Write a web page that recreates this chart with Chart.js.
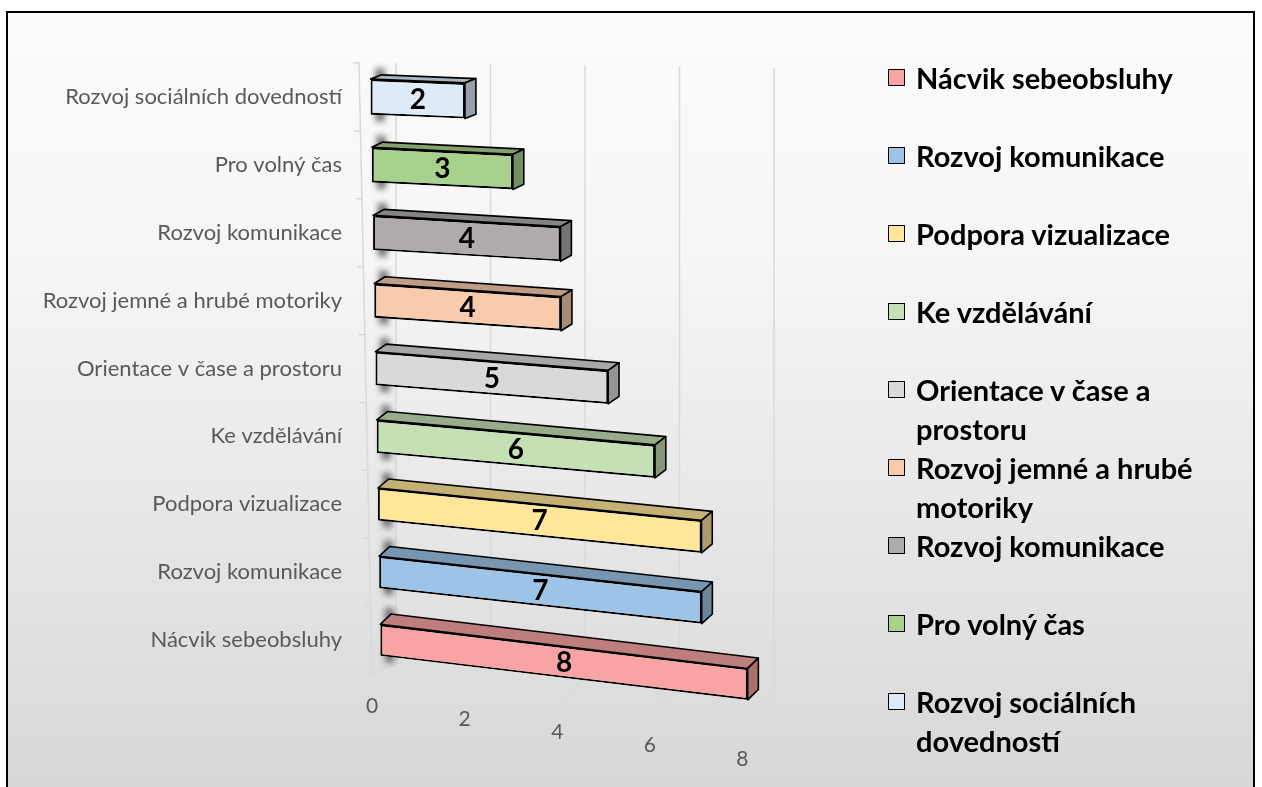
<!DOCTYPE html>
<html>
<head>
<meta charset="utf-8">
<script src="https://cdn.jsdelivr.net/npm/chart.js@4"></script>
<style>
    html, body { margin: 0; padding: 0; width: 1262px; height: 787px; overflow: hidden; background: #fff; }
    #frame {
        position: absolute; left: 6px; top: 11px; width: 1245px; height: 800px;
        border: 2px solid #000;
        background: linear-gradient(#fbfbfb 0%, #f6f6f6 30%, #e6e6e6 65%, #d6d6d6 100%);
    }
    #chart { position: absolute; left: 0; top: 0; }
    #legend { position: absolute; left: 888px; top: 58px; width: 360px; font-family: Lato, 'Open Sans', sans-serif; }
    .item { display: flex; align-items: flex-start; min-height: 78px; }
    .sw { width: 15px; height: 15px; border: 1.5px solid #000; margin: 11px 11px 0 0; flex: none; }
    .txt { font-weight: 700; font-size: 29px; line-height: 39px; color: #000; width: 310px; }
</style>
</head>
<body>
<div id="frame"></div>
<canvas id="chart" width="1262" height="787"></canvas>
<div id="legend"></div>
<script>
    // data, bottom bar first
    const categories = [
        'Nácvik sebeobsluhy',
        'Rozvoj komunikace',
        'Podpora vizualizace',
        'Ke vzdělávání',
        'Orientace v čase a prostoru',
        'Rozvoj jemné a hrubé motoriky',
        'Rozvoj komunikace',
        'Pro volný čas',
        'Rozvoj sociálních dovedností'
    ];
    const values = [8, 7, 7, 6, 5, 4, 4, 3, 2];
    const xTicks = [0, 2, 4, 6, 8];

    const frontColors = ['#F8A4A4', '#9DC3E6', '#FFE699', '#C5E0B4', '#D9D9D9', '#F8CBAD', '#AFABAB', '#A9D18E', '#DEEBF7'];

    function shade(hex, f) {
        const n = parseInt(hex.slice(1), 16);
        const r = Math.round(((n >> 16) & 255) * f);
        const g = Math.round(((n >> 8) & 255) * f);
        const b = Math.round((n & 255) * f);
        return `rgb(${r},${g},${b})`;
    }
    const topColors = frontColors.map(c => shade(c, 0.77));
    const sideColors = frontColors.map(c => shade(c, 0.68));

    const FONT = 'Lato, "Open Sans", sans-serif';
    const GRID = '#d9d9d9';

    // fake perspective: rows lower down tilt more, shift right a bit and shrink slightly
    function geom(chart, bar) {
        const area = chart.chartArea;
        const p = bar.getProps(['x', 'y', 'base', 'height'], true);
        const frac = (p.y - area.top) / (area.bottom - area.top);
        return {
            p,
            s: 0.035 + 0.09 * frac,
            sh: -2 + 11 * frac,
            k: 1 - 0.03 * frac,
            ky: 1.06 - 0.14 * frac,
            dx: 11,
            dy: 4 + 9 * frac
        };
    }

    function poly(ctx, pts, fill) {
        ctx.beginPath();
        pts.forEach((pt, i) => (i ? ctx.lineTo(pt[0], pt[1]) : ctx.moveTo(pt[0], pt[1])));
        ctx.closePath();
        ctx.fillStyle = fill;
        ctx.fill();
        ctx.stroke();
    }

    const walls = {
        id: 'walls',
        beforeDatasetsDraw(chart) {
            const ctx = chart.ctx, area = chart.chartArea, xs = chart.scales.x;
            const x0 = xs.getPixelForValue(0);
            ctx.save();
            ctx.strokeStyle = GRID;
            ctx.lineWidth = 1.5;
            // left axis line with small ticks
            ctx.beginPath();
            ctx.moveTo(x0 - 13, area.top - 1);
            ctx.lineTo(x0, area.bottom);
            const step = (area.bottom - area.top) / categories.length;
            for (let i = 0; i <= categories.length; i++) {
                const y = area.top + i * step;
                const x = x0 - 13 + 13 * i / categories.length;
                ctx.moveTo(x - 6, y);
                ctx.lineTo(x, y);
            }
            ctx.stroke();
            xTicks.forEach(v => {
                const xf = xs.getPixelForValue(v);
                const xw = xf + 24;
                const yw = area.bottom - 13 + (xw - x0) * 0.08;
                const yf = area.bottom + (xf - x0) * 0.14;
                ctx.beginPath();
                ctx.moveTo(xw, area.top - 1 + (xw - x0) * 0.015);
                ctx.lineTo(xw, yw);
                ctx.lineTo(xf, yf);
                ctx.stroke();
            });
            ctx.fillStyle = '#595959';
            ctx.font = `21px ${FONT}`;
            ctx.textAlign = 'center';
            ctx.textBaseline = 'middle';
            xTicks.forEach(v => {
                const xf = xs.getPixelForValue(v);
                const yf = area.bottom + (xf - x0) * 0.14;
                ctx.fillText(String(v), x0 + (xf - x0) * 0.98, yf + 32);
            });
            ctx.restore();
        },
        beforeDatasetDraw(chart, args) {
            const ctx = chart.ctx, area = chart.chartArea;
            const x0 = chart.scales.x.getPixelForValue(0);
            args.meta.data.forEach((bar, i) => {
                const { p, s, sh, k, ky, dx, dy } = geom(chart, bar);
                const top = p.y - p.height / 2, bot = p.y + p.height / 2;
                ctx.save();
                ctx.translate(x0 + sh, p.y);
                ctx.transform(1, s, 0, 1, 0, 0);
                ctx.scale(k, ky);
                ctx.translate(-x0, -p.y);
                // dark shadow behind the left end of the bar
                ctx.save();
                ctx.filter = 'blur(3px)';
                ctx.fillStyle = 'rgba(20,20,20,0.6)';
                ctx.fillRect(p.base + 5, top - dy - 6, 9, bot - top + dy + 12);
                ctx.restore();
                ctx.lineWidth = 1.6;
                ctx.strokeStyle = '#000';
                ctx.lineJoin = 'round';
                poly(ctx, [[p.base, top], [p.x, top], [p.x + dx, top - dy], [p.base + dx, top - dy]], topColors[i]);
                poly(ctx, [[p.x, top], [p.x + dx, top - dy], [p.x + dx, bot - dy], [p.x, bot]], sideColors[i]);
                bar.draw(ctx, area);
                ctx.restore();
            });
            return false;
        },
        afterDatasetsDraw(chart) {
            const ctx = chart.ctx;
            const x0 = chart.scales.x.getPixelForValue(0);
            const meta = chart.getDatasetMeta(0);
            ctx.save();
            ctx.fillStyle = '#000';
            ctx.font = `bold 28px ${FONT}`;
            ctx.textAlign = 'center';
            ctx.textBaseline = 'middle';
            meta.data.forEach((bar, i) => {
                const { p, s, sh, k } = geom(chart, bar);
                const mid = (p.base + p.x) / 2 - x0;
                ctx.fillText(String(values[i]), x0 + sh + k * mid, p.y + s * k * mid + 1);
            });
            ctx.restore();
        }
    };

    new Chart(document.getElementById('chart'), {
        type: 'bar',
        data: {
            labels: categories,
            datasets: [{
                data: values,
                backgroundColor: frontColors,
                borderColor: '#000',
                borderWidth: 2,
                borderSkipped: false,
                barPercentage: 1,
                categoryPercentage: 0.5
            }]
        },
        options: {
            indexAxis: 'y',
            responsive: false,
            animation: false,
            devicePixelRatio: 1,
            layout: { padding: { top: 63, right: 512, bottom: 113, left: 0 } },
            plugins: { legend: { display: false }, tooltip: { enabled: false } },
            scales: {
                x: {
                    min: 0, max: 8,
                    ticks: { display: false, stepSize: 2 },
                    grid: { display: false },
                    border: { display: false },
                    afterFit: (s) => { s.height = 0; }
                },
                y: {
                    reverse: true,
                    grid: { display: false, drawTicks: false },
                    border: { display: false },
                    ticks: { color: '#595959', font: { family: FONT, size: 22 }, padding: 30 },
                    afterFit: (s) => { s.width = 372; }
                }
            }
        },
        plugins: [walls]
    });

    const legend = document.getElementById('legend');
    categories.forEach((name, i) => {
        const item = document.createElement('div');
        item.className = 'item';
        const sw = document.createElement('span');
        sw.className = 'sw';
        sw.style.background = frontColors[i];
        const txt = document.createElement('span');
        txt.className = 'txt';
        txt.textContent = name;
        item.appendChild(sw);
        item.appendChild(txt);
        legend.appendChild(item);
    });
</script>
</body>
</html>
